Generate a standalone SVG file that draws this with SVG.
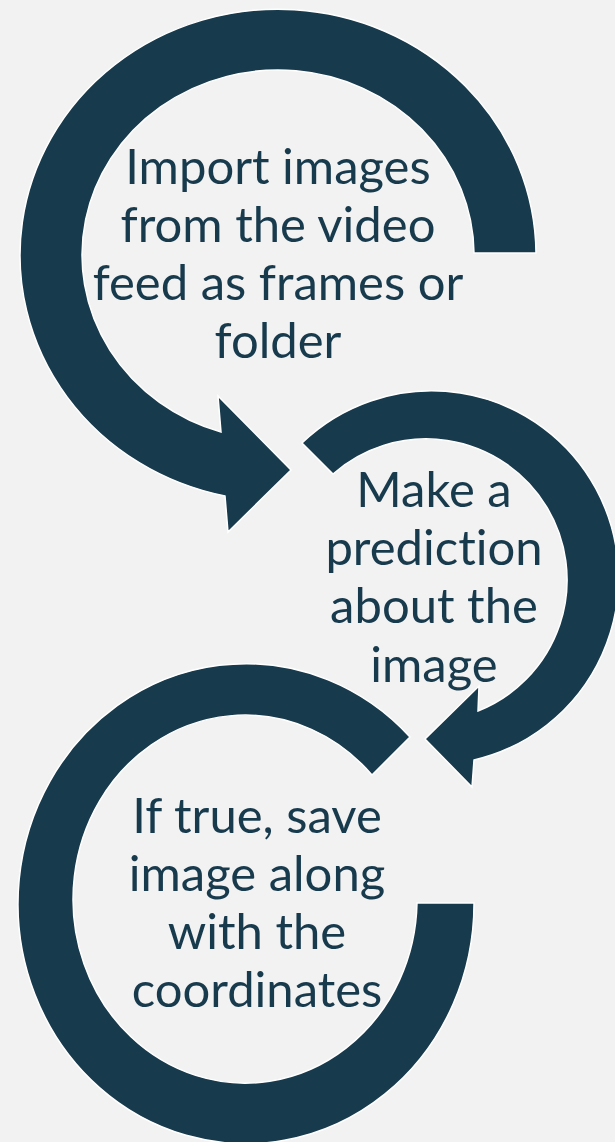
<svg xmlns="http://www.w3.org/2000/svg" width="615" height="1142" viewBox="0 0 615 1142">
  <style>
    .arrow { fill: #183a4d; stroke: #ffffff; stroke-width: 1.5; stroke-linejoin: miter; }
    .label { font-family: Lato, "Open Sans", sans-serif; font-size: 49px; fill: #183a4d; text-anchor: middle; font-variant-ligatures: none; }
  </style>
  <rect x="0" y="0" width="615" height="1142" fill="#f2f2f2"/>
  <g id="connectors"></g>
  <g id="node1">
    <path class="arrow" d="M 536 253 A 258 246 0 1 0 225 496 L 228 532 L 291 470 L 218 396 L 221 432 A 196 185 0 1 1 474 253 Z"/>
    <text class="label"><tspan x="278" y="184">Import images</tspan><tspan x="278" y="242">from the video</tspan><tspan x="278" y="300">feed as frames or</tspan><tspan x="278" y="358">folder</tspan></text>
  </g>
  <g id="node2">
    <path class="arrow" d="M 302 443 A 187 187 0 1 1 474 760 L 472 787 L 425 739 L 479 686 L 478 711 A 141 141 0 1 0 333 474 Z"/>
    <text class="label"><tspan x="434" y="507">Make a</tspan><tspan x="434" y="565">prediction</tspan><tspan x="434" y="623">about the</tspan><tspan x="434" y="682">image</tspan></text>
  </g>
  <g id="node3">
    <path class="arrow" d="M 410 737 A 228 240 0 1 0 474 903 L 417 903 A 172 184 0 1 1 372 775 Z"/>
    <text class="label"><tspan x="257" y="833">If true, save</tspan><tspan x="257" y="891">image along</tspan><tspan x="257" y="949">with the</tspan><tspan x="257" y="1007">coordinates</tspan></text>
  </g>
</svg>
